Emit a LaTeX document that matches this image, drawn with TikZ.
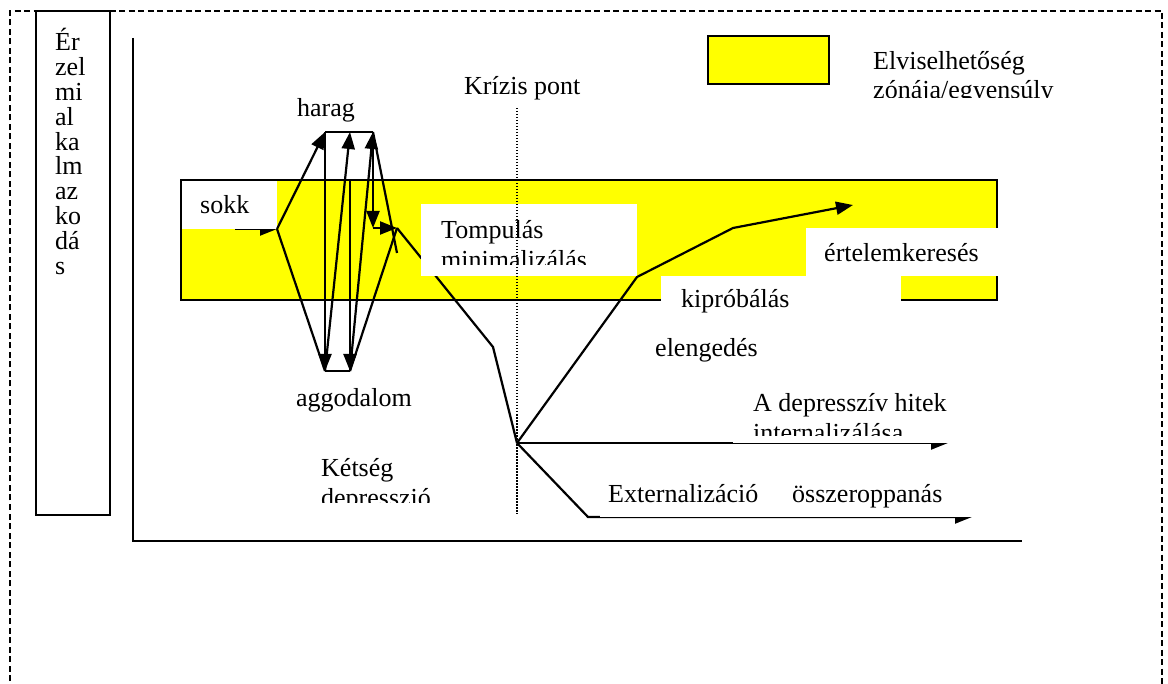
\documentclass[tikz,border=0pt]{standalone}
\usepackage{fontspec}
\setmainfont{Liberation Serif}
\usepackage{tikz}
\usetikzlibrary{arrows.meta,positioning}
\definecolor{zoneyellow}{RGB}{255,255,0}
\tikzset{
  txt/.style={anchor=base west, inner sep=0pt, font=\fontsize{26}{30}\selectfont},
  zonebox/.style={fill=zoneyellow, draw=black, line width=2.5pt},
  blankbox/.style={fill=white, draw=none},
  flow/.style={-{Triangle[length=17pt,width=13pt]}, line width=2.2pt},
  route/.style={line width=2.2pt},
  barline/.style={line width=1.3pt},
  axisline/.style={line width=2.5pt},
  frameline/.style={line width=1.6pt, dash pattern=on 6pt off 3.5pt},
  crisisline/.style={line width=1.8pt, dash pattern=on 1.5pt off 1.5pt}
}

\begin{document}
\begin{tikzpicture}[x=1pt,y=-1pt]
\useasboundingbox (0,0) rectangle (1168,684);

% frame and side label
\draw[frameline] (10,700) -- (10,11) -- (1162,11) -- (1162,700);
\draw[axisline] (36,11) rectangle (110,515);
\foreach \syl [count=\i from 0] in {Ér,zel,mi,al,ka,lm,az,ko,dá,s}
  \node[txt] (syl\i) at (55,51+24.8*\i) {\syl};

% axes
\draw[axisline] (133,38) -- (133,541) -- (1022,541);

% legend
\draw[zonebox] (708,36) rectangle (829,84);
\node[txt] (leg1) at (873,70) {Elviselhetőség};
\begin{scope}
  \clip (860,78) rectangle (1100,98);
  \node[txt] (leg2) at (873,99) {zónája/egyensúly};
\end{scope}

% zone band
\draw[zonebox] (181,180) rectangle (997,300);

% key points
\coordinate (S) at (277,229);
\coordinate (H1) at (325,132);
\coordinate (H2) at (350,132);
\coordinate (H3) at (373,132);
\coordinate (A1) at (325,371);
\coordinate (A2) at (350,371);
\coordinate (B2) at (350,180);
\coordinate (M) at (373,228);
\coordinate (P) at (397,228);
\coordinate (E8) at (397,253);
\coordinate (K1) at (493,347);
\coordinate (C) at (517,443);
\coordinate (R1) at (637,277);
\coordinate (R2) at (733,228);
\coordinate (R3) at (853,205);
\coordinate (I1) at (948,443);
\coordinate (X1) at (588,517);
\coordinate (X2) at (972,517);

% paths partly hidden by the text boxes
\draw[flow] (235,229) -- (S);
\draw[route] (P) -- (K1) -- (C);
\draw[flow] (C) -- (I1);
\draw[flow] (C) -- (X1) -- (X2);

% text boxes
\path[blankbox] (182,181) rectangle (277,229);
\path[blankbox] (421,204) rectangle (637,276);
\path[blankbox] (661,276) rectangle (901,325);
\path[blankbox] (806,228) rectangle (999,276);
\path[blankbox] (733,380) rectangle (966,443);
\path[blankbox] (600,470) rectangle (982,517);

% swings between harag and aggodalom
\draw[barline] (H1) -- (H3);
\draw[barline] (A1) -- (A2);
\draw[flow] (S) -- (H1);
\draw[route] (S) -- (A1);
\draw[flow] (H1) -- (A1);
\draw[flow] (A1) -- (H2);
\draw[flow] (B2) -- (A2);
\draw[flow] (A2) -- (H3);
\draw[flow] (H3) -- (M);
\draw[flow] (M) -- (P);
\draw[route] (H3) -- (E8);
\draw[route] (A2) -- (P);

% recovery
\draw[flow] (C) -- (R1) -- (R2) -- (R3);

% crisis line
\coordinate (Ktop) at (517,108);
\coordinate (Kbot) at (517,514);
\draw[crisisline] (Ktop) -- (Kbot);

% labels
\node[txt] (krizis) at (464,95) {Krízis pont};
\node[txt] (harag) at (297,117) {harag};
\node[txt] (aggod) at (296,407) {aggodalom};
\node[txt] (sokk) at (200,214) {sokk};
\node[txt] (tomp) at (441,239) {Tompulás};
\begin{scope}
  \clip (430,245) rectangle (630,265);
  \node[txt] (mini) at (441,269) {minimalizálás};
\end{scope}
\node[txt] (kipro) at (681,308) {kipróbálás};
\node[txt] (ertel) at (824,262) {értelemkeresés};
\node[txt] (eleng) at (655,357) {elengedés};
\node[txt] (depr1) at (753,412) {A depresszív hitek};
\begin{scope}
  \clip (740,418) rectangle (960,436);
  \node[txt] (depr2) at (753,442) {internalizálása};
\end{scope}
\node[txt] (kets1) at (321,477) {Kétség};
\begin{scope}
  \clip (310,483) rectangle (480,503);
  \node[txt] (kets2) at (321,507) {depresszió};
\end{scope}
\node[txt] (extern) at (608,503) {Externalizáció};
\node[txt] (ossze) at (792,503) {összeroppanás};
\end{tikzpicture}
\end{document}
